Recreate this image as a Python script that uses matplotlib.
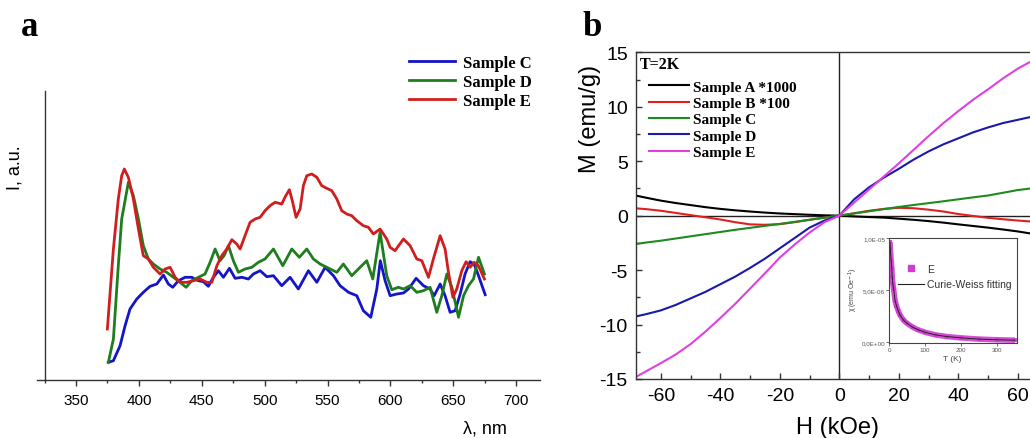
import matplotlib
matplotlib.use("Agg")
import matplotlib.pyplot as plt
import numpy as np

plt.rcParams["font.family"] = ["Liberation Sans", "DejaVu Sans"]
plt.rcParams["axes.unicode_minus"] = False

SERIF = ["Liberation Serif", "DejaVu Serif"]

# ---- panel a: emission spectra (intensity in arbitrary units) ----
wl_c = [375.7, 379.7, 385, 389, 392.9, 398.3, 403.5, 408.9, 414.2, 419.5, 423.4, 426.9,
        431.4, 436.7, 442, 447.3, 451.3, 455.2, 459.2, 463.2, 467.2, 472, 476.5, 481.8,
        487.1, 491, 496.4, 501.7, 507, 513.6, 520.2, 526.8, 534.8, 541.5, 548.1, 554.7,
        560, 566.7, 573.3, 578.5, 584.4, 589.2, 592, 595.8, 599.8, 605.1, 610.4, 614.4,
        620.5, 626.3, 631.6, 634.8, 639.6, 643.5, 647.5, 651.5, 655.5, 659.4, 663.4,
        666.6, 670.1, 675.4]
int_c = [17.4, 19, 34, 54, 70.7, 80.7, 87.4, 93.4, 95.7, 104.7, 95.7, 92.4,
         99, 102.4, 102.4, 99, 98, 93.4, 102.4, 109, 102.4, 111.4, 101.4, 102.4,
         100.7, 105.7, 109, 103, 104, 94, 102.4, 90.7, 109, 97.4, 112.4, 104,
         94, 87.4, 84, 69, 62.4, 90.7, 119, 99, 84, 85.7, 86.7, 90.7,
         101.4, 94, 90.7, 84, 95.7, 84, 67.4, 69, 85.7, 105.7, 118,
         115.7, 104, 85]

wl_d = [375.7, 379.7, 383.6, 386.3, 391.6, 395.6, 399.6, 403.5, 407.5, 411.5, 416.8, 422.1,
        427.4, 432.7, 437.5, 442, 447.3, 452.6, 456.6, 460.6, 464.5, 467.7, 471.2, 475.1,
        479.1, 484.4, 489.8, 495, 500.3, 507, 514.4, 521.6, 527.6, 533.5, 538.8, 544.1,
        549.4, 557.4, 562.6, 569.3, 575.9, 581.2, 586, 591.8, 597.1, 601.1, 606.4, 610.4,
        615.7, 621, 626.3, 631.6, 636.9, 640.9, 644.9, 648.9, 654.2, 658.2, 662.1, 666.1,
        670.1, 674.8]
int_d = [17.4, 40.7, 114, 160.7, 197.4, 184, 160.7, 134, 120.7, 115.7, 110.7, 107.4,
         102.4, 97.4, 92.4, 99, 102.4, 105.7, 117.4, 130.7, 119, 124, 134, 119,
         107.4, 110.7, 112.4, 117.4, 120.7, 130.7, 114, 130.7, 122.4, 130.7, 120.7, 115.7,
         112.4, 107.4, 115.7, 104, 112.4, 119, 100.7, 147.4, 104, 90, 92.4, 90.7,
         94, 87.4, 89, 92.4, 67.4, 84, 105.7, 92.4, 62.4, 84, 94, 100.7,
         122.4, 105.7]

wl_e = [374.9, 379.7, 383.6, 386.3, 388.4, 391.6, 395.6, 399.6, 403.5, 407.5, 411.5, 416.8,
        420.8, 424.8, 428.8, 432.7, 438.1, 443.4, 448.6, 454, 458, 462, 465.9, 469.9,
        473.9, 477.8, 480.5, 484.4, 488.4, 492.4, 496.4, 500.3, 504.3, 508.3, 513.6, 516.8,
        519.7, 522.3, 525, 528.2, 530.8, 533.5, 537.5, 541.5, 545.4, 549.4, 553.4, 557.4,
        561.3, 565.3, 569.3, 573.3, 578.5, 582.5, 586.5, 591.8, 597.1, 599.8, 603.7, 610.4,
        615.7, 621, 625, 630.3, 634.2, 639.6, 643.5, 646.2, 649.7, 652.8, 656.8, 660.2,
        663.4, 666.6, 670, 674.8]
int_e = [50.7, 130.7, 180.7, 204, 210.7, 202.4, 180.7, 150.7, 124, 120.7, 112.4, 105.7,
         110.7, 112.4, 102.4, 97.4, 97.4, 99, 100.7, 97.4, 97.4, 114, 124, 130.7,
         140, 135.7, 130.7, 144, 157.4, 160.7, 162.4, 169, 174, 177.4, 175.7, 184,
         190, 177.4, 162.4, 170.7, 194, 204, 205.7, 202.4, 194, 191.4, 189, 180.7,
         169, 165.7, 164, 159, 154, 152.4, 145.7, 150.7, 140.7, 132.4, 129, 140.7,
         134, 120.7, 119, 102.4, 120.7, 144, 130.7, 107.4, 82.4, 90.7, 109, 118,
         112.4, 117.4, 114, 100.7]

# ---- panel b: M(H) at 2 K ----
H = [-68.3, -65, -60, -55, -50, -45, -40, -35, -30, -25, -20, -15, -10, -5, 0,
     5, 10, 15, 20, 25, 30, 35, 40, 45, 50, 55, 60, 65, 70]
M_a = [1.84, 1.65, 1.38, 1.16, 0.97, 0.78, 0.62, 0.49, 0.38, 0.28, 0.2, 0.14, 0.08, 0.03, 0,
       -0.07, -0.13, -0.18, -0.28, -0.38, -0.5, -0.64, -0.8, -0.95, -1.1, -1.27, -1.45, -1.67, -1.9]
M_b = [0.67, 0.6, 0.45, 0.25, 0.05, -0.15, -0.35, -0.6, -0.8, -0.84, -0.78, -0.6, -0.38, -0.18, 0,
       0.22, 0.45, 0.62, 0.72, 0.68, 0.55, 0.38, 0.15, -0.03, -0.2, -0.33, -0.45, -0.55, -0.62]
M_c = [-2.6, -2.47, -2.3, -2.1, -1.9, -1.7, -1.5, -1.3, -1.12, -0.94, -0.76, -0.57, -0.38, -0.19, 0,
       0.2, 0.4, 0.6, 0.8, 0.98, 1.15, 1.32, 1.5, 1.68, 1.85, 2.1, 2.35, 2.52, 2.7]
M_d = [-9.25, -9.05, -8.7, -8.2, -7.6, -7.0, -6.3, -5.6, -4.8, -3.95, -3.0, -2.05, -1.1, -0.45, 0,
       1.5, 2.6, 3.5, 4.3, 5.15, 5.9, 6.55, 7.1, 7.65, 8.1, 8.5, 8.8, 9.1, 9.3]
M_e = [-14.8, -14.3, -13.55, -12.75, -11.8, -10.65, -9.4, -8.1, -6.7, -5.3, -3.85, -2.65, -1.55, -0.6, 0,
       1.2, 2.4, 3.6, 4.8, 6.05, 7.3, 8.5, 9.6, 10.65, 11.6, 12.6, 13.5, 14.25, 14.9]

# ---- inset: susceptibility of sample E ----
T_k = [2, 3, 5, 7, 8, 10, 12, 16, 20, 25, 30, 40, 50, 65, 80, 100, 130, 160, 200, 250, 300, 350]
chi = [9.6, 8.9, 7.9, 7.1, 6.3, 5.6, 5.1, 4.0, 3.5, 3.0, 2.6, 2.1, 1.8, 1.45, 1.2, 0.95,
       0.7, 0.55, 0.42, 0.3, 0.24, 0.2]
chi = [v * 1e-6 for v in chi]

W, Hpx = 1030, 439
fig = plt.figure(figsize=(W / 100, Hpx / 100), dpi=100)


def fx(px):
    return px / W


def fy(py):
    return 1 - py / Hpx


# ================= panel a =================
axa = fig.add_axes([fx(36.7), fy(380.7), fx(540 - 36.7), fy(92.3) - fy(380.7)])
axa.plot(wl_c, int_c, color="#1414c8", lw=2.0, label="Sample C", solid_joinstyle="round")
axa.plot(wl_d, int_d, color="#1e7d1e", lw=2.0, label="Sample D", solid_joinstyle="round")
axa.plot(wl_e, int_e, color="#d01e1e", lw=2.0, label="Sample E", solid_joinstyle="round")
axa.set_xlim(318.7, 719)
axa.set_ylim(0, 288.4)
for s in ["top", "right"]:
    axa.spines[s].set_visible(False)
axa.spines["left"].set_position(("data", 325))
for s in ["left", "bottom"]:
    axa.spines[s].set_color("#333333")
    axa.spines[s].set_linewidth(1.0)
axa.set_yticks([])
axa.set_xticks(np.arange(350, 701, 50))
axa.set_xticks(np.arange(325, 701, 50), minor=True)
axa.tick_params(axis="x", which="major", direction="out", length=4.3, width=1.0,
                color="#333333", labelsize=11, pad=5)
axa.tick_params(axis="x", which="minor", direction="out", length=2.5, width=1.0,
                color="#333333")
fig.text(fx(485), fy(429), "λ, nm", fontsize=13, ha="center", va="center")
fig.text(fx(15), fy(168), "I, a.u.", fontsize=13, ha="center", va="center", rotation=90)
fig.text(fx(30), fy(28), "a", fontsize=25, fontweight="bold", family=SERIF,
         ha="center", va="center")
axa.legend(loc="upper left", bbox_to_anchor=(fx(409), fy(55.5)), bbox_transform=fig.transFigure,
           frameon=False, prop={"family": SERIF, "weight": "bold", "size": 12},
           handlelength=2.75, handletextpad=0.5, labelspacing=0.2, borderpad=0,
           borderaxespad=0)

# ================= panel b =================
x0 = 839.3 - 68.3 * 2.975
x1 = 839.3 + 70 * 2.975
axb = fig.add_axes([fx(x0), fy(380), fx(x1 - x0), fy(53.3) - fy(380)])
axb.axhline(0, color="#222222", lw=1.0, zorder=1)
axb.axvline(0, color="#222222", lw=1.0, zorder=1)
axb.plot(H, M_a, color="black", lw=1.5, label="Sample A *1000")
axb.plot(H, M_b, color="#e02020", lw=1.5, label="Sample B *100")
axb.plot(H, M_c, color="#1f8a1f", lw=1.5, label="Sample C")
axb.plot(H, M_d, color="#1a1aa8", lw=1.5, label="Sample D")
axb.plot(H, M_e, color="#e040e0", lw=1.5, label="Sample E")
axb.set_xlim(-68.3, 70)
axb.set_ylim(-15, 15)
axb.set_xticks(np.arange(-60, 61, 20))
axb.set_xticks(np.arange(-50, 61, 20), minor=True)
axb.set_yticks(np.arange(-15, 16, 5))
axb.set_yticks(np.arange(-12.5, 13, 5), minor=True)
axb.tick_params(which="major", direction="in", length=4.5, width=1.0, labelsize=14, pad=6,
                color="#333333")
axb.tick_params(which="minor", direction="in", length=3, width=1.0, color="#333333")
for s in axb.spines.values():
    s.set_color("#333333")
    s.set_linewidth(1.0)
fig.text(fx(838), fy(428), "H (kOe)", fontsize=17, ha="center", va="center")
fig.text(fx(590), fy(119), "M (emu/g)", fontsize=17, ha="center", va="center", rotation=90)
fig.text(fx(592), fy(28), "b", fontsize=25, fontweight="bold", family=SERIF,
         ha="center", va="center")
fig.text(fx(640), fy(65), "T=2K", fontsize=11.5, fontweight="bold", family=SERIF,
         ha="left", va="center")
axb.legend(loc="upper left", bbox_to_anchor=(fx(649), fy(81)), bbox_transform=fig.transFigure,
           frameon=False, prop={"family": SERIF, "weight": "bold", "size": 11},
           handlelength=2.6, handletextpad=0.3, labelspacing=0.17, borderpad=0,
           borderaxespad=0)

# ================= inset =================
axi = fig.add_axes([fx(889.3), fy(344.3), fx(1016.7 - 889.3), fy(239) - fy(344.3)])
axi.plot(T_k, chi, color="#d03cd0", lw=4.0, marker="s", ms=3.5, mew=0, alpha=0.9,
         label="E", solid_capstyle="butt")
axi.plot(T_k, chi, color="#222222", lw=0.7, label="Curie-Weiss fitting")
axi.set_xlim(0, 355)
axi.set_ylim(-0.1e-6, 1.0e-5)
axi.set_xticks([0, 100, 200, 300])
axi.set_yticks([0, 5e-6, 1e-5])
axi.set_yticklabels(["0,0E+00", "5,0E-06", "1,0E-05"])
axi.tick_params(direction="out", length=2, width=0.6, labelsize=4.5, pad=1,
                colors="#555555")
for s in axi.spines.values():
    s.set_color("#444444")
    s.set_linewidth(0.8)
fig.text(fx(952), fy(360), "T (K)", fontsize=6, color="#444444", ha="center", va="center")
fig.text(fx(853), fy(290), "χ (emu Oe$^{-1}$)", fontsize=5, color="#444444",
         ha="center", va="center", rotation=90)
h_e = plt.Line2D([], [], color="#d03cd0", marker="s", ms=4, lw=0)
h_f = plt.Line2D([], [], color="#222222", lw=0.8)
axi.legend([h_e, h_f], ["E", "Curie-Weiss fitting"], loc="upper left",
           bbox_to_anchor=(fx(898), fy(265)), bbox_transform=fig.transFigure,
           frameon=False, fontsize=7.5, handlelength=2.5, handletextpad=0.3,
           labelspacing=0.5, borderpad=0, borderaxespad=0, labelcolor="#333333")

fig.savefig("out.png", dpi=100)
